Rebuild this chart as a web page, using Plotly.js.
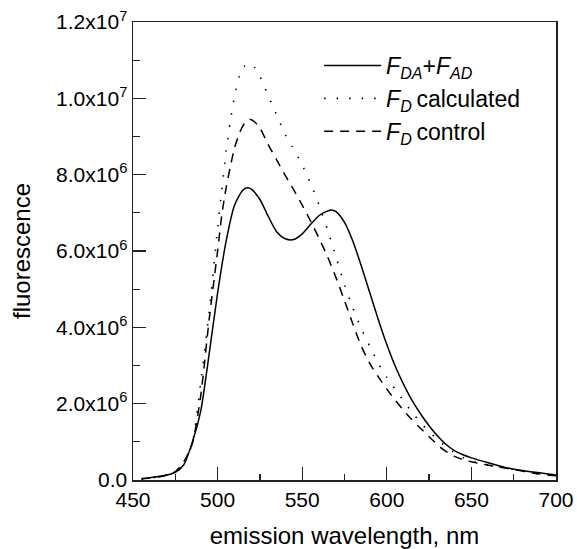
<!DOCTYPE html>
<html>
<head>
<meta charset="utf-8">
<script src="https://cdn.plot.ly/plotly-3.0.1.min.js"></script>
<style>html,body{margin:0;padding:0;background:#fff;}#chart{width:577px;height:549px;}</style>
</head>
<body>
<div id="chart"></div>
<script>
// F_DA + F_AD (solid)
const wlSum = [455,460,465,470,475,480,485,490,495,500,505,510,515,518,520,525,530,535,540,545,550,555,560,565,568,570,575,580,585,590,595,600,605,610,615,620,625,630,635,640,645,650,660,670,680,690,700];
const fSum = [0.03e6,0.06e6,0.09e6,0.13e6,0.2e6,0.4e6,0.98e6,1.8e6,3.3e6,4.9e6,6.25e6,7.2e6,7.6e6,7.66e6,7.62e6,7.35e6,6.9e6,6.5e6,6.32e6,6.3e6,6.45e6,6.7e6,6.93e6,7.05e6,7.07e6,7.03e6,6.75e6,6.25e6,5.6e6,4.9e6,4.2e6,3.55e6,2.98e6,2.5e6,2.08e6,1.73e6,1.42e6,1.15e6,0.93e6,0.77e6,0.66e6,0.58e6,0.45e6,0.33e6,0.25e6,0.19e6,0.13e6];

// F_D calculated (dotted)
const wlCalc = [455,460,465,470,475,480,485,490,495,500,502.5,505,507.5,510,513,516,519,522,525,528,532,536,540,544,548,552,556,560,565,570,575,580,585,590,595,600,605,610,615,620,625,630,637,645,653,662,670,677,688,700];
const fCalc = [0.03e6,0.05e6,0.08e6,0.13e6,0.2e6,0.43e6,0.95e6,2.55e6,4.4e6,6.6e6,7.6e6,8.6e6,9.4e6,10.05e6,10.6e6,10.85e6,10.92e6,10.8e6,10.58e6,10.27e6,9.86e6,9.45e6,9.05e6,8.75e6,8.42e6,8.07e6,7.66e6,7.2e6,6.55e6,5.84e6,5.12e6,4.5e6,3.96e6,3.5e6,3.06e6,2.69e6,2.37e6,2.07e6,1.77e6,1.5e6,1.27e6,1.06e6,0.81e6,0.59e6,0.46e6,0.38e6,0.32e6,0.26e6,0.17e6,0.1e6];

// F_D control (dashed)
const wlCtrl = [455,460,465,470,475,480,485,490,495,500,502.5,505,507.5,510,513,516,519,522,525,530,535,540,545,550,555,560,565,570,575,580,585,590,595,600,607,614,620,627,633,640,647,655,661,668,675,688,700];
const fCtrl = [0.03e6,0.05e6,0.08e6,0.13e6,0.22e6,0.48e6,0.95e6,2.2e6,4.2e6,6.0e6,6.95e6,7.65e6,8.2e6,8.7e6,9.1e6,9.35e6,9.45e6,9.38e6,9.22e6,8.78e6,8.38e6,7.98e6,7.6e6,7.2e6,6.78e6,6.33e6,5.85e6,5.3e6,4.7e6,4.08e6,3.5e6,3.05e6,2.7e6,2.38e6,1.98e6,1.62e6,1.35e6,1.05e6,0.81e6,0.62e6,0.51e6,0.43e6,0.38e6,0.33e6,0.28e6,0.17e6,0.11e6];

const yTickVals = [0,2e6,4e6,6e6,8e6,1e7,1.2e7];
const yTickText = ['0.0','2.0x10<sup>6</sup>','4.0x10<sup>6</sup>','6.0x10<sup>6</sup>','8.0x10<sup>6</sup>','1.0x10<sup>7</sup>','1.2x10<sup>7</sup>'];

const names = [
  '<i>F</i><sub><i>DA</i></sub>+<i>F</i><sub><i>AD</i></sub>',
  '<i>F</i><sub><i>D</i></sub>\u2009calculated',
  '<i>F</i><sub><i>D</i></sub>\u2009control'
];

const FONT = 'Liberation Sans, Arial, Helvetica, sans-serif';

const traces = [
  {x: wlSum, y: fSum, name: names[0], mode: 'lines', line: {color: '#000', width: 1.5, shape: 'spline', smoothing: 0.7}},
  {x: wlCalc, y: fCalc, name: names[1], mode: 'lines', line: {color: '#000', width: 1.6, dash: '1.5px,11px', shape: 'spline', smoothing: 0.7}},
  {x: wlCtrl, y: fCtrl, name: names[2], mode: 'lines', line: {color: '#000', width: 1.5, dash: '9px,7px', shape: 'spline', smoothing: 0.7}}
];

const layout = {
  width: 577, height: 549,
  margin: {l: 133, r: 21, t: 22, b: 69},
  paper_bgcolor: '#fff', plot_bgcolor: '#fff',
  font: {family: FONT, color: '#000', size: 21},
  showlegend: true,
  legend: {
    x: 0.44, y: 0.952, xanchor: 'left', yanchor: 'top',
    bgcolor: 'rgba(0,0,0,0)', borderwidth: 0,
    font: {family: FONT, size: 23, color: '#000'},
    itemwidth: 57, tracegroupgap: 0
  },
  xaxis: {
    range: [450, 700], tick0: 450, dtick: 50,
    ticks: 'inside', ticklen: 13, tickwidth: 1.3, tickcolor: '#222',
    minor: {dtick: 25, ticks: 'inside', ticklen: 6, tickwidth: 1.3, tickcolor: '#222'},
    showline: true, linecolor: '#222', linewidth: 1.5, mirror: true,
    showgrid: false, zeroline: false,
    tickfont: {family: FONT, size: 21},
    title: {text: 'emission wavelength, nm', font: {family: FONT, size: 24}, standoff: 18}
  },
  yaxis: {
    range: [0, 1.2e7], tickvals: yTickVals, ticktext: yTickText,
    ticks: 'inside', ticklen: 13, tickwidth: 1.3, tickcolor: '#222',
    minor: {dtick: 1e6, ticks: 'inside', ticklen: 7, tickwidth: 1.3, tickcolor: '#222'},
    showline: true, linecolor: '#222', linewidth: 1.5, mirror: true,
    showgrid: false, zeroline: false,
    tickfont: {family: FONT, size: 21},
    title: {text: 'fluorescence', font: {family: FONT, size: 24}, standoff: 18}
  }
};

Plotly.newPlot('chart', traces, layout, {displayModeBar: false, staticPlot: true});
</script>
</body>
</html>
